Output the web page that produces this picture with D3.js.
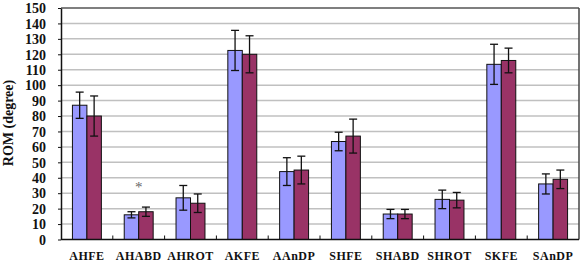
<!DOCTYPE html>
<html><head><meta charset="utf-8">
<script src="https://cdn.jsdelivr.net/npm/d3@7"></script>
<style>html,body{margin:0;padding:0;background:#fff;}svg{display:block;}</style>
</head><body>
<svg id="c" width="584" height="266"></svg>
<script>
const categories = ["AHFE","AHABD","AHROT","AKFE","AAnDP","SHFE","SHABD","SHROT","SKFE","SAnDP"];
const series = ["group1","group2"];
const values1 = [87, 16, 27, 122.5, 44, 63.5, 16.5, 26, 113.5, 36];
const errors1 = [8.5, 2, 8, 13, 9, 6, 3, 6, 13, 6.5];
const values2 = [80, 18, 23.5, 120, 45, 67, 16.5, 25.5, 116, 39];
const errors2 = [13, 3, 6, 12, 9, 11, 3, 5, 8, 6];
const yTicks = [0,10,20,30,40,50,60,70,80,90,100,110,120,130,140,150];
const colors = ["#9999ff","#993366"];
const significance = ["","*","","","","","","","",""];

const svg = d3.select("#c");
const L = 61, R = 579, T = 8, B = 239.5;
const x0 = d3.scaleBand().domain(categories).range([L,R]).padding(0);
const x1 = d3.scaleBand().domain(series).range([0,x0.bandwidth()]).paddingInner(0).paddingOuter(0.79);
const y = d3.scaleLinear().domain([0,150]).range([B,T]);

// gridlines
svg.append("g").selectAll("line").data(yTicks.filter(t=>t>0 && t<150)).join("line")
  .attr("x1",L).attr("x2",R).attr("y1",d=>y(d)).attr("y2",d=>y(d))
  .attr("stroke","#c0c0c0").attr("stroke-width",1.5);

// plot border top/right
svg.append("line").attr("x1",L).attr("x2",R).attr("y1",y(150)).attr("y2",y(150)).attr("stroke","#555").attr("stroke-width",1.5);
svg.append("line").attr("x1",R).attr("x2",R).attr("y1",y(150)).attr("y2",B).attr("stroke","#444").attr("stroke-width",1.5);

// bars
const data = categories.map((c,i)=>({c, vals:[
  {s:"group1", v:values1[i], e:errors1[i], col:colors[0]},
  {s:"group2", v:values2[i], e:errors2[i], col:colors[1]}]}));
const g = svg.append("g").selectAll("g").data(data).join("g")
  .attr("transform",d=>`translate(${x0(d.c)},0)`);
g.selectAll("rect").data(d=>d.vals).join("rect")
  .attr("x",d=>x1(d.s)).attr("width",x1.bandwidth())
  .attr("y",d=>y(d.v)).attr("height",d=>B-y(d.v))
  .attr("fill",d=>d.col).attr("stroke","#111").attr("stroke-width",1);
// error bars
const eb = g.selectAll("g.eb").data(d=>d.vals).join("g").attr("class","eb")
  .attr("stroke","#111").attr("stroke-width",1.3);
eb.append("line").attr("x1",d=>x1(d.s)+x1.bandwidth()/2).attr("x2",d=>x1(d.s)+x1.bandwidth()/2)
  .attr("y1",d=>y(d.v+d.e)).attr("y2",d=>y(d.v-d.e));
eb.append("line").attr("x1",d=>x1(d.s)+x1.bandwidth()/2-4).attr("x2",d=>x1(d.s)+x1.bandwidth()/2+4)
  .attr("y1",d=>y(d.v+d.e)).attr("y2",d=>y(d.v+d.e));
eb.append("line").attr("x1",d=>x1(d.s)+x1.bandwidth()/2-4).attr("x2",d=>x1(d.s)+x1.bandwidth()/2+4)
  .attr("y1",d=>y(d.v-d.e)).attr("y2",d=>y(d.v-d.e));

// significance marks
svg.append("g").selectAll("text").data(categories.map((c,i)=>({c,s:significance[i],m:Math.max(values1[i]+errors1[i],values2[i]+errors2[i])})).filter(d=>d.s))
  .join("text").attr("x",d=>x0(d.c)+x0.bandwidth()/2).attr("y",d=>y(d.m)-15)
  .attr("text-anchor","middle").attr("font-family","Liberation Serif, serif").attr("font-size",15)
  .attr("fill","#666").text(d=>d.s);

// y axis
const ya = svg.append("g").attr("transform",`translate(${L},0)`)
  .call(d3.axisLeft(y).tickValues(yTicks).tickSize(3).tickSizeOuter(0));
ya.select(".domain").attr("stroke","#111").attr("stroke-width",1.5);
ya.selectAll(".tick line").attr("stroke","#111");
ya.selectAll("text").attr("font-family","Liberation Serif, serif").attr("font-weight","bold")
  .attr("font-size",14).attr("fill","#111").attr("x",-15).attr("dy","0.34em");

// x axis
svg.append("line").attr("x1",L).attr("x2",R).attr("y1",B).attr("y2",B).attr("stroke","#111").attr("stroke-width",1.5);
svg.append("g").selectAll("line").data(categories.slice(1)).join("line")
  .attr("x1",d=>x0(d)).attr("x2",d=>x0(d)).attr("y1",B).attr("y2",B-4).attr("stroke","#111");
svg.append("g").selectAll("text").data(categories).join("text")
  .attr("x",d=>x0(d)+x0.bandwidth()/2).attr("y",260)
  .attr("text-anchor","middle").attr("font-family","Liberation Serif, serif").attr("font-weight","bold")
  .attr("font-size",12).attr("letter-spacing",0.5).attr("fill","#111").text(d=>d);

// y title
svg.append("text").attr("transform","translate(13,123) rotate(-90)")
  .attr("text-anchor","middle").attr("font-family","Liberation Serif, serif").attr("font-weight","bold")
  .attr("font-size",14).attr("fill","#111").text("ROM (degree)");
</script>
</body></html>
